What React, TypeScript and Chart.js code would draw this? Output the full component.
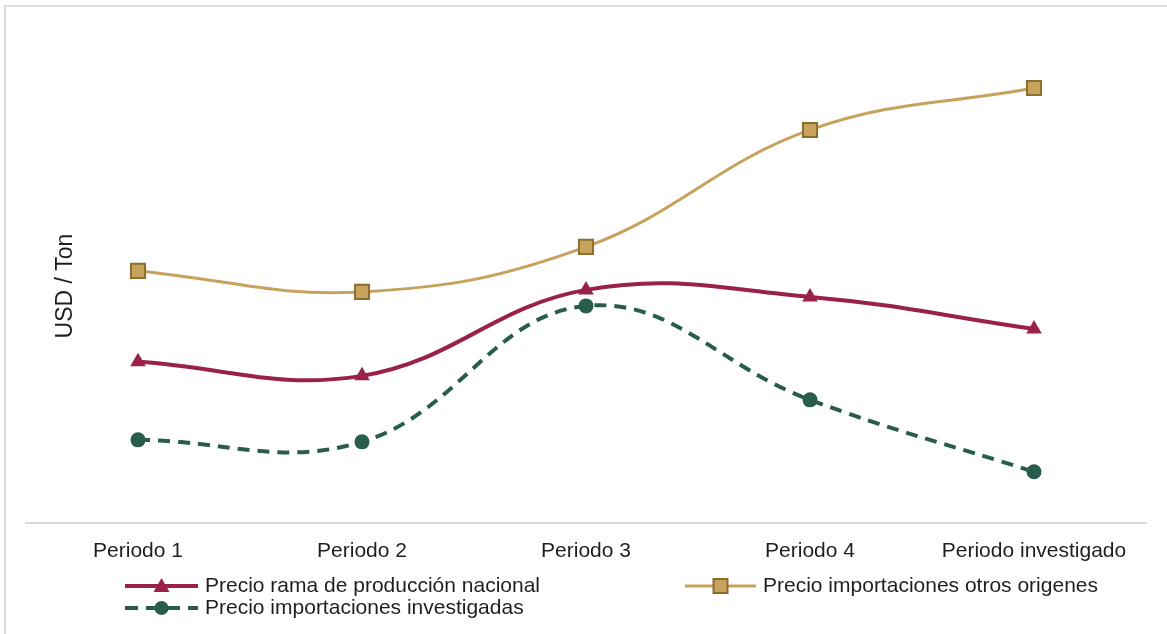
import React, { useEffect, useRef } from "react";
import { Chart, registerables } from "chart.js";

Chart.register(...registerables);

// Categories on the horizontal axis
const periods = ["Periodo 1", "Periodo 2", "Periodo 3", "Periodo 4", "Periodo investigado"];

// Price series (USD / Ton, relative scale)
const precioNacional = [322, 294, 466, 452, 388];
const precioOtrosOrigenes = [504, 462, 552, 786, 870];
const precioInvestigadas = [166, 162, 434, 246, 102];

const seriesLabels = [
  "Precio rama de producción nacional",
  "Precio importaciones otros origenes",
  "Precio importaciones investigadas",
];

const yTitle = "USD / Ton";

const FONT = "'Liberation Sans', Arial, sans-serif";
const TEXT = "#1f1f1f";
const RED = "#9b2247";
const GOLD = "#c7a25c";
const GOLD_EDGE = "#8d6c2f";
const GREEN = "#285c4d";

function drawMarker(ctx: CanvasRenderingContext2D, kind: string, x: number, y: number) {
  ctx.save();
  if (kind === "triangle") {
    ctx.fillStyle = RED;
    ctx.beginPath();
    ctx.moveTo(x, y - 8);
    ctx.lineTo(x + 8, y + 6);
    ctx.lineTo(x - 8, y + 6);
    ctx.closePath();
    ctx.fill();
  } else if (kind === "rect") {
    ctx.fillStyle = GOLD;
    ctx.strokeStyle = GOLD_EDGE;
    ctx.lineWidth = 2;
    ctx.fillRect(x - 7, y - 7, 14, 14);
    ctx.strokeRect(x - 7, y - 7, 14, 14);
  } else {
    ctx.fillStyle = GREEN;
    ctx.beginPath();
    ctx.arc(x, y, 7, 0, Math.PI * 2);
    ctx.fill();
  }
  ctx.restore();
}

// Frame, rotated axis title and the two-column legend
const decorations = {
  id: "decorations",
  beforeDraw(chart: any) {
    const ctx = chart.ctx as CanvasRenderingContext2D;
    ctx.save();
    ctx.strokeStyle = "#dcdcdc";
    ctx.lineWidth = 2;
    ctx.beginPath();
    ctx.moveTo(5, chart.height);
    ctx.lineTo(5, 6);
    ctx.lineTo(chart.width, 6);
    ctx.stroke();
    ctx.restore();
  },
  afterDraw(chart: any) {
    const ctx = chart.ctx as CanvasRenderingContext2D;
    ctx.save();
    ctx.fillStyle = TEXT;
    ctx.font = `23px ${FONT}`;
    ctx.textAlign = "center";
    ctx.textBaseline = "middle";
    ctx.translate(66, 286);
    ctx.rotate(-Math.PI / 2);
    ctx.fillText(yTitle, 0, 0);
    ctx.restore();

    const items = [
      { label: seriesLabels[0], x: 125, y: 586, len: 73, marker: "triangle", color: RED, width: 4, dash: [] as number[] },
      { label: seriesLabels[1], x: 685, y: 586, len: 71, marker: "rect", color: GOLD, width: 3, dash: [] as number[] },
      { label: seriesLabels[2], x: 125, y: 608, len: 73, marker: "circle", color: GREEN, width: 4, dash: [13, 8] },
    ];
    for (const it of items) {
      ctx.save();
      ctx.strokeStyle = it.color;
      ctx.lineWidth = it.width;
      ctx.setLineDash(it.dash);
      ctx.beginPath();
      ctx.moveTo(it.x, it.y);
      ctx.lineTo(it.x + it.len, it.y);
      ctx.stroke();
      ctx.restore();
      drawMarker(ctx, it.marker, it.x + it.len / 2, it.y);
      ctx.save();
      ctx.fillStyle = TEXT;
      ctx.font = `21px ${FONT}`;
      ctx.textAlign = "left";
      ctx.textBaseline = "middle";
      ctx.fillText(it.label, it.x + it.len + 7, it.y);
      ctx.restore();
    }
  },
};

export default function App() {
  const canvasRef = useRef<HTMLCanvasElement | null>(null);

  useEffect(() => {
    if (!canvasRef.current) return;
    const chart = new Chart(canvasRef.current, {
      type: "line",
      data: {
        labels: periods,
        datasets: [
          {
            label: seriesLabels[1],
            data: precioOtrosOrigenes,
            borderColor: GOLD,
            borderWidth: 3,
            pointStyle: "rect",
            pointRadius: 10,
            pointBackgroundColor: GOLD,
            pointBorderColor: GOLD_EDGE,
            pointBorderWidth: 2,
            tension: 0.4,
          },
          {
            label: seriesLabels[0],
            data: precioNacional,
            borderColor: RED,
            borderWidth: 4,
            pointStyle: "triangle",
            pointRadius: 9,
            pointBackgroundColor: RED,
            pointBorderColor: RED,
            pointBorderWidth: 0,
            tension: 0.4,
          },
          {
            label: seriesLabels[2],
            data: precioInvestigadas,
            borderColor: GREEN,
            borderWidth: 4,
            borderDash: [12, 8],
            pointStyle: "circle",
            pointRadius: 7.5,
            pointBackgroundColor: GREEN,
            pointBorderColor: GREEN,
            pointBorderWidth: 0,
            tension: 0.4,
          },
        ],
      },
      options: {
        animation: false,
        responsive: true,
        maintainAspectRatio: false,
        layout: { padding: { left: 26, right: 21, top: 23, bottom: 62 } },
        plugins: {
          legend: { display: false },
          tooltip: { enabled: false },
        },
        scales: {
          x: {
            offset: true,
            grid: { display: false },
            border: { display: true, color: "#d9d9d9", width: 2 },
            ticks: {
              color: TEXT,
              font: { family: FONT, size: 21 },
              padding: 8,
              maxRotation: 0,
              autoSkip: false,
            },
          },
          y: {
            display: false,
            min: 0,
            max: 1000,
          },
        },
      },
      plugins: [decorations],
    });
    return () => chart.destroy();
  }, []);

  return (
    <div style={{ position: "absolute", left: 0, top: 0, width: 1167, height: 634, background: "#fff" }}>
      <canvas ref={canvasRef} />
    </div>
  );
}
